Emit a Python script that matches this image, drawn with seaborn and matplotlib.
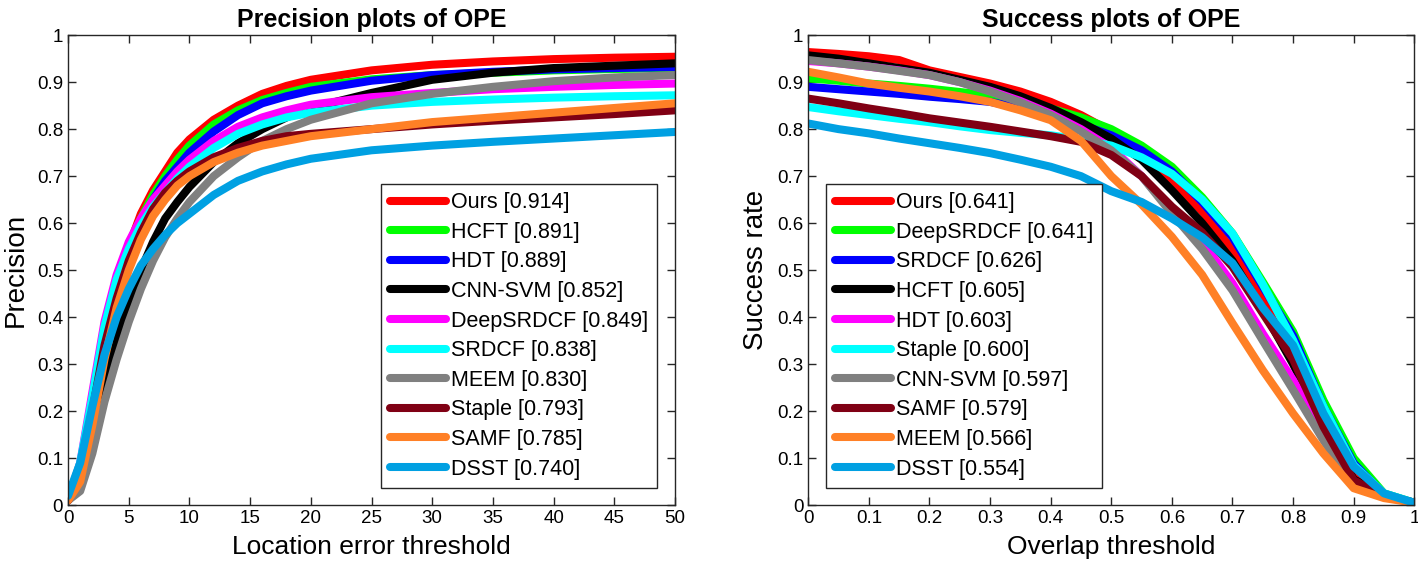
import numpy as np
import pandas as pd
import matplotlib
matplotlib.use("Agg")
import matplotlib.pyplot as plt
from matplotlib.ticker import FuncFormatter
import seaborn as sns

# ---- data ----
prec_thresholds = [0, 1, 2, 3, 4, 5, 6, 7, 8, 9, 10, 12, 14, 16, 18, 20, 25, 30, 35, 40, 45, 50]

prec_names = ["Ours", "HCFT", "HDT", "CNN-SVM", "DeepSRDCF", "SRDCF", "MEEM", "Staple", "SAMF", "DSST"]
prec_scores = [0.914, 0.891, 0.889, 0.852, 0.849, 0.838, 0.830, 0.793, 0.785, 0.740]

prec_ours = [0.01, 0.07, 0.21, 0.36, 0.47, 0.55, 0.62, 0.67, 0.71, 0.75, 0.778, 0.82, 0.85, 0.875, 0.892, 0.905, 0.925, 0.937, 0.944, 0.949, 0.952, 0.954]
prec_hcft = [0.01, 0.07, 0.21, 0.36, 0.47, 0.55, 0.61, 0.66, 0.70, 0.735, 0.765, 0.81, 0.84, 0.862, 0.877, 0.89, 0.906, 0.915, 0.92, 0.925, 0.928, 0.93]
prec_hdt = [0.01, 0.07, 0.21, 0.36, 0.46, 0.54, 0.60, 0.65, 0.69, 0.72, 0.75, 0.795, 0.83, 0.855, 0.87, 0.882, 0.903, 0.915, 0.922, 0.927, 0.93, 0.932]
prec_cnnsvm = [0.01, 0.04, 0.14, 0.26, 0.35, 0.43, 0.50, 0.56, 0.61, 0.645, 0.677, 0.73, 0.77, 0.80, 0.825, 0.845, 0.877, 0.905, 0.92, 0.93, 0.935, 0.94]
prec_deepsrdcf = [0.01, 0.09, 0.24, 0.39, 0.49, 0.56, 0.61, 0.65, 0.68, 0.71, 0.735, 0.775, 0.805, 0.825, 0.84, 0.852, 0.868, 0.877, 0.885, 0.89, 0.894, 0.897]
prec_srdcf = [0.01, 0.09, 0.23, 0.38, 0.48, 0.545, 0.595, 0.635, 0.665, 0.695, 0.72, 0.76, 0.79, 0.81, 0.825, 0.835, 0.85, 0.858, 0.863, 0.867, 0.87, 0.872]
prec_meem = [0.01, 0.03, 0.11, 0.22, 0.31, 0.39, 0.46, 0.52, 0.57, 0.61, 0.645, 0.70, 0.74, 0.775, 0.80, 0.82, 0.855, 0.875, 0.89, 0.902, 0.91, 0.915]
prec_staple = [0.01, 0.07, 0.20, 0.34, 0.44, 0.52, 0.58, 0.63, 0.665, 0.69, 0.71, 0.74, 0.76, 0.775, 0.785, 0.79, 0.80, 0.81, 0.818, 0.825, 0.832, 0.84]
prec_samf = [0.01, 0.05, 0.17, 0.31, 0.42, 0.50, 0.565, 0.615, 0.65, 0.68, 0.70, 0.73, 0.75, 0.765, 0.775, 0.785, 0.80, 0.815, 0.825, 0.835, 0.845, 0.855]
prec_dsst = [0.02, 0.09, 0.21, 0.32, 0.40, 0.46, 0.51, 0.545, 0.575, 0.60, 0.62, 0.66, 0.69, 0.71, 0.725, 0.737, 0.755, 0.765, 0.773, 0.78, 0.787, 0.794]

succ_thresholds = [0, 0.05, 0.1, 0.15, 0.2, 0.25, 0.3, 0.35, 0.4, 0.45, 0.5,
                   0.55, 0.6, 0.65, 0.7, 0.75, 0.8, 0.85, 0.9, 0.95, 1.0]

succ_names = ["Ours", "DeepSRDCF", "SRDCF", "HCFT", "HDT", "Staple", "CNN-SVM", "SAMF", "MEEM", "DSST"]
succ_scores = [0.641, 0.641, 0.626, 0.605, 0.603, 0.600, 0.597, 0.579, 0.566, 0.554]

succ_ours = [0.964, 0.96, 0.955, 0.947, 0.925, 0.911, 0.897, 0.88, 0.858, 0.83, 0.795, 0.75, 0.69, 0.625, 0.543, 0.436, 0.316, 0.18, 0.06, 0.02, 0.005]
succ_deepsrdcf = [0.908, 0.903, 0.897, 0.892, 0.886, 0.879, 0.872, 0.86, 0.844, 0.825, 0.80, 0.765, 0.72, 0.655, 0.578, 0.475, 0.369, 0.223, 0.10, 0.025, 0.005]
succ_srdcf = [0.89, 0.885, 0.88, 0.875, 0.869, 0.864, 0.858, 0.845, 0.83, 0.81, 0.787, 0.755, 0.71, 0.645, 0.57, 0.465, 0.36, 0.21, 0.089, 0.022, 0.005]
succ_hcft = [0.957, 0.95, 0.94, 0.93, 0.92, 0.905, 0.89, 0.87, 0.845, 0.815, 0.78, 0.735, 0.67, 0.6, 0.52, 0.415, 0.30, 0.17, 0.055, 0.02, 0.005]
succ_hdt = [0.945, 0.94, 0.933, 0.925, 0.915, 0.90, 0.882, 0.86, 0.833, 0.80, 0.76, 0.70, 0.625, 0.56, 0.472, 0.365, 0.266, 0.153, 0.045, 0.02, 0.005]
succ_staple = [0.847, 0.838, 0.83, 0.822, 0.815, 0.806, 0.798, 0.792, 0.787, 0.778, 0.765, 0.74, 0.705, 0.65, 0.578, 0.47, 0.351, 0.21, 0.085, 0.025, 0.005]
succ_cnnsvm = [0.947, 0.94, 0.933, 0.924, 0.915, 0.90, 0.88, 0.857, 0.83, 0.795, 0.755, 0.70, 0.62, 0.545, 0.457, 0.35, 0.245, 0.138, 0.04, 0.02, 0.005]
succ_samf = [0.865, 0.855, 0.844, 0.834, 0.823, 0.814, 0.805, 0.795, 0.785, 0.773, 0.745, 0.70, 0.635, 0.58, 0.507, 0.408, 0.31, 0.167, 0.053, 0.02, 0.005]
succ_meem = [0.922, 0.91, 0.897, 0.888, 0.88, 0.87, 0.858, 0.84, 0.819, 0.775, 0.70, 0.64, 0.571, 0.49, 0.387, 0.287, 0.195, 0.11, 0.036, 0.015, 0.005]
succ_dsst = [0.812, 0.80, 0.791, 0.78, 0.77, 0.76, 0.749, 0.735, 0.72, 0.70, 0.668, 0.645, 0.61, 0.57, 0.515, 0.42, 0.34, 0.195, 0.082, 0.025, 0.005]

# colours by legend rank (same scheme in both panels)
rank_colors = ["#FF0000", "#00FF00", "#0000FF", "#000000", "#FF00FF",
               "#00FFFF", "#808080", "#800014", "#FF8026", "#00A0E2"]

prec_curves = [prec_ours, prec_hcft, prec_hdt, prec_cnnsvm, prec_deepsrdcf,
               prec_srdcf, prec_meem, prec_staple, prec_samf, prec_dsst]
succ_curves = [succ_ours, succ_deepsrdcf, succ_srdcf, succ_hcft, succ_hdt,
               succ_staple, succ_cnnsvm, succ_samf, succ_meem, succ_dsst]

# ---- style ----
sns.set_theme(style="ticks")
plt.rcParams["font.family"] = ["Liberation Sans", "DejaVu Sans"]
plt.rcParams["text.color"] = "black"
plt.rcParams["axes.labelcolor"] = "black"
plt.rcParams["axes.edgecolor"] = "#262626"
plt.rcParams["xtick.color"] = "#262626"
plt.rcParams["ytick.color"] = "#262626"

fig = plt.figure(figsize=(14.18, 5.76), dpi=100)
ax1 = fig.add_axes([0.048, 0.123, 0.428, 0.816])
ax2 = fig.add_axes([0.570, 0.123, 0.4274, 0.816])

legend_kw = dict(fontsize=15.5, frameon=True, fancybox=False, edgecolor="#262626",
                 framealpha=1, handlelength=2.6, handletextpad=0.25,
                 labelspacing=0.4, borderpad=0.4, borderaxespad=0)


def draw(ax, xs, curves, names, scores):
    for ys, name, score, col in zip(curves, names, scores, rank_colors):
        df = pd.DataFrame({"x": xs, "y": ys})
        sns.lineplot(data=df, x="x", y="y", ax=ax, color=col, linewidth=5.8,
                     label=f"{name} [{score:.3f}]")
    ax.set_ylim(0, 1)
    ax.set_yticks(np.arange(0, 1.01, 0.1))
    fmt = FuncFormatter(lambda v, p: f"{v:.10g}" if abs(v) > 1e-9 else "0")
    ax.yaxis.set_major_formatter(fmt)
    ax.xaxis.set_major_formatter(fmt)
    ax.tick_params(direction="in", length=6, width=1, labelsize=13.5,
                   top=True, right=True, labelcolor="black")
    for s in ax.spines.values():
        s.set_linewidth(1)


draw(ax1, prec_thresholds, prec_curves, prec_names, prec_scores)
ax1.set_xlim(0, 50)
ax1.set_xticks(np.arange(0, 51, 5))
ax1.set_xlabel("Location error threshold", fontsize=19, labelpad=6)
ax1.set_ylabel("Precision", fontsize=20, labelpad=6)
ax1.set_title("Precision plots of OPE", fontsize=18, fontweight="bold", pad=6)
ax1.legend(loc="lower right", bbox_to_anchor=(0.97, 0.036), **legend_kw)

draw(ax2, succ_thresholds, succ_curves, succ_names, succ_scores)
ax2.set_xlim(0, 1)
ax2.set_xticks(np.arange(0, 1.01, 0.1))
ax2.set_xlabel("Overlap threshold", fontsize=19, labelpad=6)
ax2.set_ylabel("Success rate", fontsize=20, labelpad=6)
ax2.set_title("Success plots of OPE", fontsize=18, fontweight="bold", pad=6)
ax2.legend(loc="lower left", bbox_to_anchor=(0.03, 0.036), **legend_kw)

for leg in (ax1.get_legend(), ax2.get_legend()):
    leg.get_frame().set_linewidth(1)

fig.savefig("out.png", dpi=100)
